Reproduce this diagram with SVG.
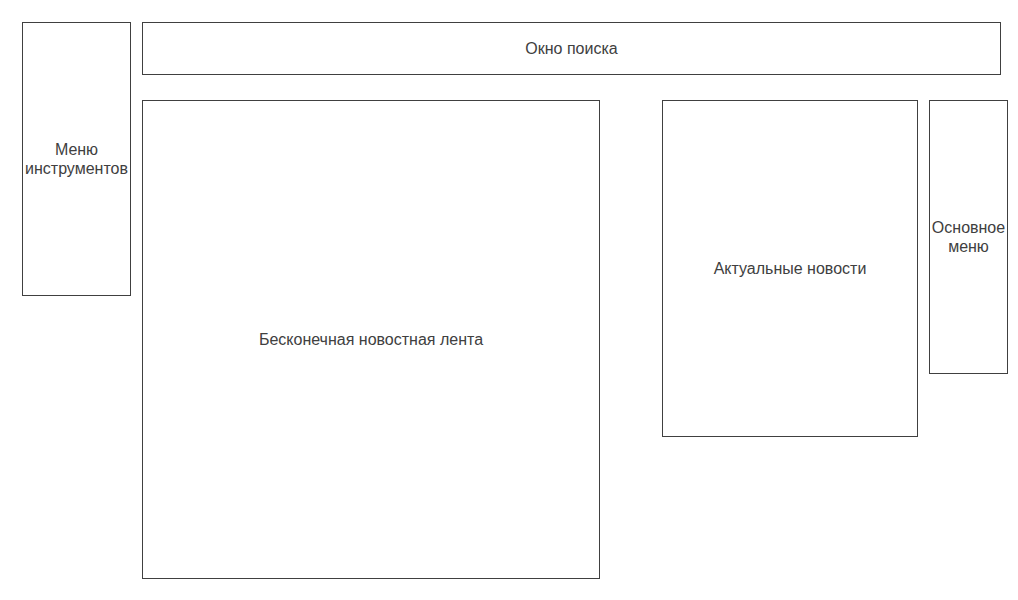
<svg xmlns="http://www.w3.org/2000/svg" width="1018" height="600" viewBox="0 0 1018 600">
<style>
.box{fill:#ffffff;stroke:#404040;stroke-width:1}
.lbl{font-family:"Liberation Sans",Arial,sans-serif;font-size:16px;fill:#404040;text-anchor:middle}
</style>
<rect x="0" y="0" width="1018" height="600" fill="#ffffff"/>
<g id="tools-menu"><rect class="box" x="22.5" y="22.5" width="108" height="273"/><text class="lbl" x="76.5" y="154.5">Меню</text><text class="lbl" x="76.5" y="173.5">инструментов</text></g>
<g id="search"><rect class="box" x="142.5" y="22.5" width="858" height="52"/><text class="lbl" x="571.5" y="53.5">Окно поиска</text></g>
<g id="feed"><rect class="box" x="142.5" y="100.5" width="457" height="478"/><text class="lbl" x="371" y="344.5">Бесконечная новостная лента</text></g>
<g id="actual-news"><rect class="box" x="662.5" y="100.5" width="255" height="336"/><text class="lbl" x="790" y="273.5">Актуальные новости</text></g>
<g id="main-menu"><rect class="box" x="929.5" y="100.5" width="78" height="273"/><text class="lbl" x="968.5" y="232.5">Основное</text><text class="lbl" x="968.5" y="251.5">меню</text></g>
<g id="connectors"></g>
</svg>
